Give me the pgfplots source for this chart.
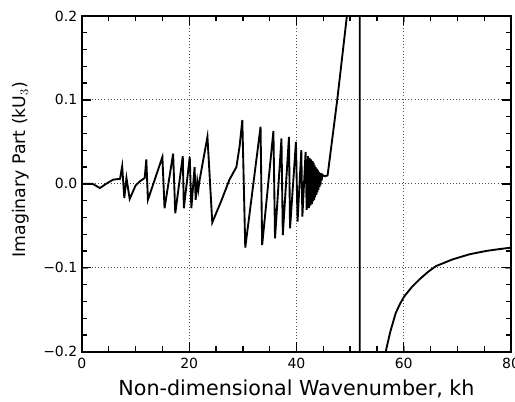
\documentclass[border=0pt]{standalone}
\usepackage{pgfplots}
\pgfplotsset{compat=1.18}
\usepackage{fontspec}
\setmainfont{DejaVu Sans}
\setsansfont{DejaVu Sans}
\begin{document}
\begin{tikzpicture}
\begin{axis}[
  name=ax,
  width=322pt, height=252pt,
  scale only axis,
  xmin=0, xmax=80, ymin=-0.2, ymax=0.2,
  xtick={0,20,40,60,80},
  xticklabels={0,20,40,60,80},
  ytick={-0.2,-0.1,0,0.1,0.2},
  yticklabels={−0.2,−0.1,0.0,0.1,0.2},
  tick label style={font=\fontsize{10.5}{12}\selectfont},
  xticklabel style={yshift=-1pt},
  xlabel={Non-dimensional Wavenumber, kh},
  ylabel={Imaginary Part (kU$_3$)},
  every axis x label/.style={at={(axis description cs:0.5,0)}, anchor=base, yshift=-33pt,
    font=\fontsize{15.5}{17}\selectfont},
  every axis y label/.style={at={(axis description cs:-0.142,0.542)}, anchor=center, rotate=90,
    font=\fontsize{13}{15}\selectfont},
  axis line style={line width=1.4pt},
  grid=major,
  major grid style={dotted, black!70, line width=0.8pt},
]
\addplot[black, line width=1.4pt] coordinates {
(0,0) (2.0,0.0) (3.35,-0.005) (4.5,0.0) (5.8,0.005) (7.1,0.006) (7.5,0.021)
(7.9,-0.017) (8.3,0.007) (8.9,-0.018) (10.0,-0.002) (10.8,0.003) (11.7,0.007)
(12.0,0.029) (12.3,-0.019) (15.0,0.032) (15.4,-0.029) (17.0,0.036) (17.4,-0.035)
(18.8,0.033) (19.0,-0.029) (20.1,0.032) (20.4,-0.029) (21.0,0.02) (21.2,-0.019)
(21.5,0.003) (21.7,-0.007) (21.95,0.005) (23.4,0.056) (24.3,-0.046)
(26.0,-0.02) (27.5,0.005) (28.8,0.02) (29.4,0.045) (29.9,0.076) (30.45,-0.076)
(33.3,0.068) (33.6,-0.073) (35.7,0.063) (36.0,-0.065) (37.2,0.054) (37.45,-0.061)
(38.6,0.056) (38.8,-0.053) (39.9,0.05) (40.2,-0.045) (40.9,0.04) (41.1,-0.039)
(41.7,0.038) (41.9,-0.031) (42.15,0.033) (42.3,-0.029) (42.45,0.031) (42.6,-0.026)
(42.75,0.029) (42.9,-0.024) (43.0,0.027) (43.1,-0.021) (43.2,0.025) (43.3,-0.019)
(43.4,0.022) (43.5,-0.016) (43.6,0.02) (43.7,-0.013) (43.8,0.018) (43.9,-0.01)
(44.0,0.016) (44.1,-0.007) (44.2,0.014) (44.3,-0.004) (44.4,0.013) (44.5,-0.001)
(44.6,0.012) (44.7,0.004) (44.8,0.011) (45.2,0.009) (45.8,0.01) (46.6,0.05)
(47.6,0.1) (48.5,0.15) (49.4,0.2) (50.3,0.3) (51.2,0.6) (51.8,3) (51.8,-3)
(54.0,-0.6) (55.5,-0.3) (56.7,-0.198) (57.5,-0.176) (58.5,-0.154) (59.3,-0.143)
(60.1,-0.134) (61.5,-0.123) (62.9,-0.114) (64.5,-0.105) (66.0,-0.098)
(69.1,-0.090) (72.2,-0.084) (75.3,-0.080) (77.5,-0.078) (80,-0.076)
};
\end{axis}
% tick marks, drawn along the named axis frame (322pt x 252pt)
\foreach \k in {1,...,15}{
  \pgfmathsetmacro{\len}{mod(\k,4)==0 ? 7 : 4}
  \draw[line width=1pt] ([xshift=\k*322pt/16]ax.south west) -- ++(0,\len pt);
  \draw[line width=1pt] ([xshift=\k*322pt/16]ax.north west) -- ++(0,-\len pt);
}
\foreach \k in {1,...,19}{
  \pgfmathsetmacro{\len}{mod(\k,5)==0 ? 7 : 4}
  \draw[line width=1pt] ([yshift=\k*252pt/20]ax.south west) -- ++(\len pt,0);
  \draw[line width=1pt] ([yshift=\k*252pt/20]ax.south east) -- ++(-\len pt,0);
}
\pgfresetboundingbox
\path ([xshift=-61.5pt,yshift=-37.5pt]ax.south west) rectangle ([xshift=3pt,yshift=12pt]ax.north east);
\end{tikzpicture}
\end{document}
